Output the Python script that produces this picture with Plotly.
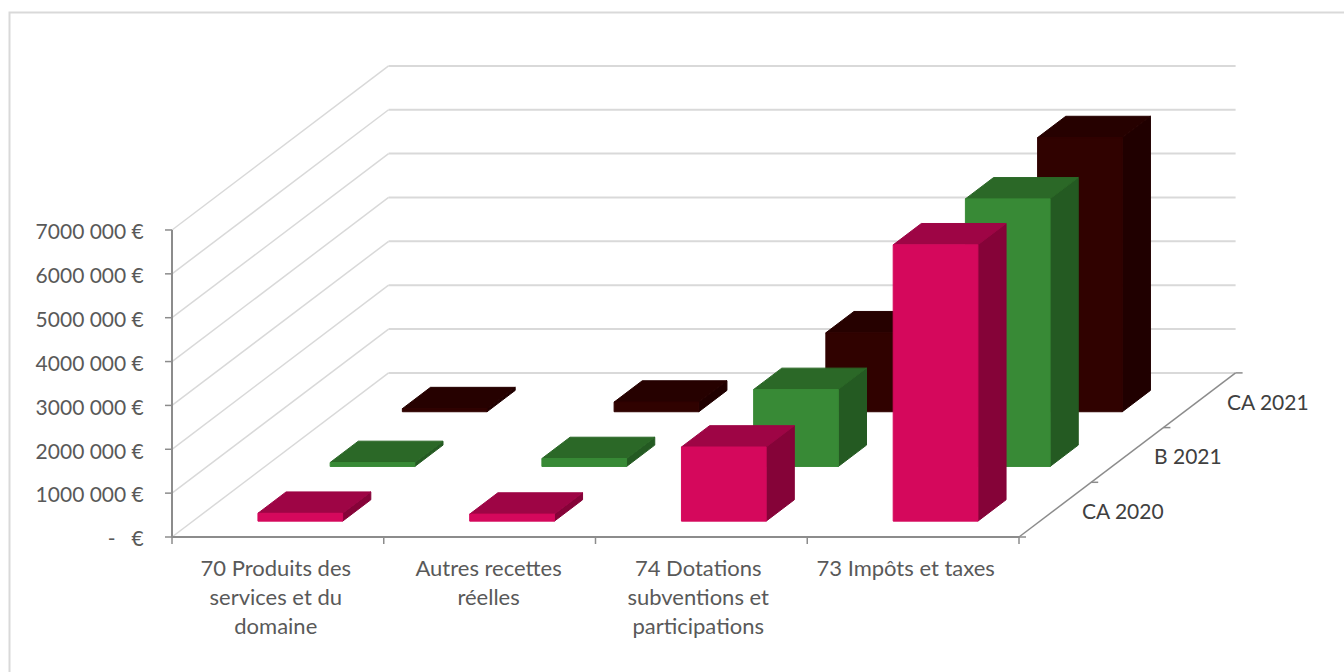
import plotly.graph_objects as go

# ---- data ----
categories = ["70 Produits des<br>services et du<br>domaine", "Autres recettes<br>réelles",
              "74 Dotations<br>subventions et<br>participations", "73 Impôts et taxes"]
category_label_positions = [0.49, 1.495, 2.485, 3.465]
series_names = ["CA 2020", "B 2021", "CA 2021"]
ca_2020 = [180000, 160000, 1690000, 6300000]
b_2021 = [90000, 180000, 1755000, 6100000]
ca_2021 = [70000, 220000, 1800000, 6250000]
value_ticks = [0, 1000000, 2000000, 3000000, 4000000, 5000000, 6000000, 7000000]
value_labels = ["-   €", "1000 000 €", "2000 000 €", "3000 000 €", "4000 000 €",
                "5000 000 €", "6000 000 €", "7000 000 €"]
front_colors = ["#D5085C", "#388A36", "#300200"]
top_colors = ["#9E0545", "#2B6827", "#260100"]
side_colors = ["#850338", "#245A22", "#200000"]

# ---- oblique projection: category units + euros, shifted by depth ----
W, H = 1344, 672
X0, Y0 = 172.0, 537.0
PX_PER_CAT = 211.75
PX_PER_EURO = 43.86 / 1e6
DEPTH_DX = 72.2 / PX_PER_CAT          # category units per series slot
DEPTH_DY = 54.7 / PX_PER_EURO         # euros per series slot
BAR_LEFT, BAR_W = 0.307, 0.40
BAR_D0, BAR_D = 0.29, 0.39            # depth start/extent within a slot


def proj(cat, val, depth):
    return cat + depth * DEPTH_DX, val + depth * DEPTH_DY


def poly(points, color, line=None):
    xs, ys = zip(*[proj(*p) for p in points])
    return go.Scatter(x=list(xs) + [xs[0]], y=list(ys) + [ys[0]], mode="lines", fill="toself",
                      fillcolor=color, line=dict(color=line or color, width=1),
                      hoverinfo="skip", showlegend=False)


def seg(p, q, color, width):
    xs, ys = zip(proj(*p), proj(*q))
    return go.Scatter(x=list(xs), y=list(ys), mode="lines", line=dict(color=color, width=width),
                      hoverinfo="skip", showlegend=False)


fig = go.Figure()
n = len(categories)
GRID, AXIS = "#D9D9D9", "#8C8C8C"
TOTAL_D = len(series_names)

# walls
for v in value_ticks:
    fig.add_trace(seg((0, v, 0), (0, v, TOTAL_D), GRID, 1.5))
    fig.add_trace(seg((0, v, TOTAL_D), (n, v, TOTAL_D), GRID, 2))

# bars, back to front
series = [ca_2020, b_2021, ca_2021]
for s in reversed(range(3)):
    d0, d1 = s + BAR_D0, s + BAR_D0 + BAR_D
    for c in range(n):
        x0, x1 = c + BAR_LEFT, c + BAR_LEFT + BAR_W
        v = series[s][c]
        fig.add_trace(poly([(x1, 0, d0), (x1, 0, d1), (x1, v, d1), (x1, v, d0)], side_colors[s]))
        fig.add_trace(poly([(x0, v, d0), (x1, v, d0), (x1, v, d1), (x0, v, d1)], top_colors[s]))
        fig.add_trace(poly([(x0, 0, d0), (x1, 0, d0), (x1, v, d0), (x0, v, d0)], front_colors[s]))

# axis lines and tick marks
TICK_X = 7 / PX_PER_CAT
TICK_Y = 7 / PX_PER_EURO
fig.add_trace(seg((0, 0, 0), (0, value_ticks[-1], 0), AXIS, 2))
fig.add_trace(seg((0, 0, 0), (n, 0, 0), AXIS, 2))
fig.add_trace(seg((n, 0, 0), (n, 0, TOTAL_D), AXIS, 1.5))
for v in value_ticks:
    fig.add_trace(seg((-TICK_X, v, 0), (0, v, 0), AXIS, 1.5))
for c in range(n + 1):
    fig.add_trace(seg((c, 0, 0), (c, -TICK_Y, 0), AXIS, 1.5))
for d in range(TOTAL_D + 1):
    fig.add_trace(seg((n, 0, d), (n + TICK_X, 0, d), AXIS, 1.5))

# frame: only its top and left edges fall inside the picture
fig.add_shape(type="rect", xref="paper", yref="paper", x0=9.5 / W, x1=1.1, y0=-0.1,
              y1=1 - 12.5 / H, line=dict(color="#D9D9D9", width=2))

# series labels along the depth axis
for d, name in enumerate(series_names):
    x, y = proj(n, 0, d + 0.5)
    fig.add_annotation(x=x, y=y, text=name, showarrow=False, xanchor="left", yanchor="middle",
                       xshift=25, yshift=-1, font=dict(family="Lato", size=21, color="#404040"))

fig.update_layout(
    width=W, height=H, autosize=False, margin=dict(l=0, r=0, t=0, b=0),
    paper_bgcolor="white", plot_bgcolor="white", showlegend=False,
    xaxis=dict(range=[-X0 / PX_PER_CAT, (W - X0) / PX_PER_CAT], domain=[0, 1], anchor="free",
               position=(H - Y0) / H, showgrid=False, zeroline=False, showline=False,
               tickmode="array", tickvals=category_label_positions, ticktext=categories,
               ticks="outside", ticklen=12, tickcolor="rgba(0,0,0,0)",
               tickfont=dict(family="Lato", size=22, color="#595959"), tickangle=0),
    yaxis=dict(range=[-(H - Y0) / PX_PER_EURO, Y0 / PX_PER_EURO], domain=[0, 1], anchor="free",
               position=X0 / W, showgrid=False, zeroline=False, showline=False,
               tickmode="array", tickvals=value_ticks, ticktext=value_labels,
               ticks="outside", ticklen=24, tickcolor="rgba(0,0,0,0)", ticklabelshift=2,
               tickfont=dict(family="Lato", size=21, color="#595959")),
)
fig.write_html("out.html", config={"displayModeBar": False},
               post_script="document.body.style.margin='0';document.documentElement.style.overflow='hidden';")
